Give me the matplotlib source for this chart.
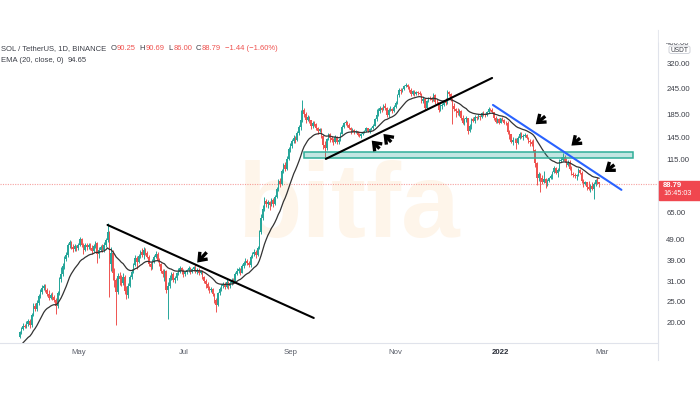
import numpy as np
import pandas as pd
import matplotlib
matplotlib.use('Agg')
import matplotlib.pyplot as plt
import matplotlib.dates as mdates
from matplotlib.patches import Rectangle, FancyBboxPatch
from matplotlib.lines import Line2D

plt.rcParams['font.family'] = ['Liberation Sans', 'DejaVu Sans']

# SOL/USDT daily, Binance. closes of 1-27 Mar 2021 only seed the EMA
warmup_close = [15.3, 14.6, 15.0, 14.1, 13.8, 13.6, 14.4, 15.0, 14.9, 15.1,
                15.2, 14.7, 15.3, 14.8, 14.2, 14.3, 15.0, 14.6, 15.9, 16.2,
                16.0, 15.6, 15.2, 14.5, 14.1, 15.3, 17.2]

first_day = '2021-03-28'
last_day = '2022-02-27'

close = [
    18.1, 18.8, 19.4, 19.2,
    # apr
    19.8, 20.3, 19.5, 21.8, 23.9, 23.2, 24.8, 26.5, 27.8, 28.9, 29.6, 28.4, 27.2, 26.1, 27.0,
    26.3, 25.6, 23.8, 27.4, 31.8, 33.6, 36.8, 39.7, 41.2, 45.8, 47.4, 45.1, 44.0, 45.6, 44.3,
    # may
    46.0, 48.9, 45.8, 43.5, 46.2, 44.8, 45.9, 44.6, 43.2, 45.3, 46.8, 41.9, 43.6, 45.2, 43.8,
    46.1, 48.3, 52.9, 37.6, 42.4, 34.2, 31.5, 27.9, 33.1, 32.0, 30.6, 32.8, 28.1, 26.9, 29.8, 32.6,
    # jun
    34.6, 37.2, 40.1, 38.4, 40.9, 42.8, 41.2, 43.6, 42.3, 40.5, 37.6, 36.2, 38.7, 40.6, 41.8,
    38.9, 37.4, 34.7, 33.6, 34.9, 28.3, 29.6, 32.4, 33.8, 31.5, 32.2, 33.9, 34.6, 35.8, 34.9,
    # jul
    33.6, 34.4, 35.1, 35.9, 34.3, 35.4, 36.2, 34.6, 35.2, 34.1, 34.8, 32.6, 31.2, 30.4, 29.1,
    28.3, 28.6, 27.2, 25.6, 24.2, 27.4, 28.6, 29.7, 30.2, 29.4, 30.8, 29.6, 30.6, 31.7, 31.2, 33.8,
    # aug
    34.9, 35.6, 34.2, 36.8, 38.1, 38.9, 37.8, 37.1, 40.6, 41.7, 42.8, 41.2, 44.6, 52.8, 61.5,
    67.9, 73.4, 71.2, 72.6, 70.4, 74.8, 71.6, 76.9, 83.4, 90.8, 88.2, 101.5, 108.6, 104.3, 115.6, 128.4,
    # sep
    132.8, 139.6, 145.2, 141.3, 152.6, 163.4, 176.2, 194.8, 186.4, 175.6, 181.2, 174.5, 163.8, 170.6, 167.2,
    160.4, 155.8, 158.9, 147.6, 134.5, 129.8, 142.6, 150.4, 144.8, 141.6, 139.2, 146.1, 138.4, 141.5, 151.6,
    # oct
    163.2, 168.9, 172.4, 167.1, 161.5, 156.8, 157.4, 153.6, 155.2, 149.8, 148.3, 151.7, 153.9, 155.6, 160.1,
    156.2, 158.4, 160.6, 164.8, 176.5, 185.3, 192.7, 198.6, 196.2, 204.5, 199.1, 184.6, 194.3, 197.8, 192.5, 202.4,
    # nov
    209.6, 228.4, 242.8, 238.6, 244.9, 251.3, 255.2, 249.6, 240.5, 232.1, 238.4, 231.6, 235.8, 234.2, 231.5,
    214.6, 219.8, 199.6, 214.2, 221.4, 219.3, 218.1, 229.6, 212.4, 211.8, 194.7, 204.3, 206.1, 212.8, 209.5,
    # dec
    237.6, 231.4, 219.2, 203.8, 197.5, 192.4, 188.6, 193.2, 179.8, 170.4, 176.5, 178.2, 155.6, 164.8, 176.3,
    173.9, 181.2, 179.6, 183.4, 181.2, 188.6, 186.9, 184.2, 190.5, 197.4, 195.8, 190.2, 179.6, 172.4, 176.8, 170.3,
    # jan 2022
    178.2, 176.1, 170.6, 168.9, 154.2, 150.3, 138.6, 141.2, 141.8, 137.4, 144.6, 151.3, 146.8, 148.2, 149.6,
    144.8, 140.3, 138.1, 135.4, 126.7, 110.2, 94.6, 98.8, 94.1, 90.6, 92.8, 89.4, 91.6, 93.8, 96.2, 100.4,
    # feb
    104.8, 99.6, 103.2, 113.5, 114.8, 118.2, 113.6, 108.4, 111.2, 104.1, 98.6, 97.4, 95.8, 96.9, 102.4,
    99.8, 91.2, 88.6, 89.9, 85.8, 84.2, 86.9, 83.6, 88.4, 92.1, 90.25, 88.79,
]

high = [
    18.4, 19.2, 19.9, 19.8,
    20.4, 20.9, 20.8, 22.3, 24.6, 24.8, 25.6, 27.1, 28.6, 30.1, 30.4, 30.2, 29.0, 28.3, 27.6,
    27.9, 26.9, 26.1, 28.2, 32.6, 36.2, 37.9, 40.8, 42.5, 46.9, 48.6, 48.1, 46.3, 46.5, 46.2,
    46.9, 50.2, 49.6, 47.1, 47.0, 46.9, 47.2, 46.8, 45.8, 46.4, 47.8, 47.5, 45.2, 46.1, 46.3,
    47.4, 49.6, 58.2, 53.6, 44.8, 43.5, 35.8, 32.4, 34.2, 34.6, 33.4, 33.9, 33.2, 29.6, 30.5, 33.4,
    35.6, 38.1, 41.2, 41.0, 41.8, 43.6, 44.3, 44.8, 44.6, 43.2, 41.1, 38.4, 39.4, 41.4, 43.2,
    42.5, 39.8, 37.9, 35.5, 35.4, 35.3, 30.8, 33.2, 34.6, 34.3, 33.0, 34.4, 35.8, 36.7, 36.3,
    35.4, 34.9, 35.7, 36.6, 36.2, 36.1, 36.9, 37.6, 35.8, 35.9, 35.3, 35.1, 33.1, 31.8, 31.0,
    29.8, 29.2, 29.0, 27.6, 26.0, 27.9, 29.3, 30.2, 31.0, 30.8, 31.9, 31.2, 31.3, 32.2, 32.3, 34.5,
    35.8, 36.4, 36.0, 37.4, 38.9, 39.8, 39.6, 38.8, 41.2, 42.6, 43.9, 43.4, 45.3, 54.2, 63.8,
    70.2, 76.8, 75.6, 74.1, 74.0, 76.1, 75.9, 78.2, 85.6, 93.2, 94.1, 103.6, 111.2, 112.4, 118.9, 131.5,
    137.2, 143.1, 149.8, 147.6, 155.3, 166.8, 194.6, 216.8, 199.6, 190.2, 184.6, 183.9, 176.2, 172.8, 173.4,
    169.5, 162.6, 161.4, 160.2, 148.9, 139.6, 144.8, 153.2, 152.6, 147.9, 145.1, 149.3, 147.8, 144.6, 153.9,
    165.8, 171.6, 175.1, 173.6, 169.2, 163.4, 160.6, 159.8, 157.3, 156.6, 152.4, 153.2, 156.4, 158.2, 162.7,
    161.8, 160.2, 163.1, 167.4, 179.2, 196.4, 198.5, 202.8, 201.4, 207.9, 209.6, 202.3, 198.6, 203.4, 199.6, 205.8,
    214.2, 231.6, 246.2, 245.9, 248.3, 256.2, 259.9, 258.4, 252.1, 246.3, 241.2, 240.5, 238.9, 239.6, 238.2,
    233.4, 223.6, 222.4, 216.8, 224.6, 226.2, 223.5, 233.2, 231.8, 218.6, 213.4, 207.9, 209.4, 217.5, 221.6,
    242.8, 240.2, 234.1, 221.5, 209.6, 199.8, 199.2, 196.4, 195.6, 184.1, 178.9, 182.3, 179.4, 167.2, 178.6,
    181.2, 184.5, 183.8, 186.9, 185.6, 191.3, 192.4, 189.6, 193.8, 200.6, 199.8, 198.7, 191.5, 182.8, 179.6, 178.4,
    179.8, 180.4, 177.3, 174.2, 173.1, 156.8, 151.2, 145.6, 145.3, 143.9, 147.2, 154.4, 153.6, 150.6, 152.8,
    151.2, 146.1, 142.6, 142.2, 143.8, 128.4, 111.8, 100.4, 99.6, 96.8, 101.2, 94.3, 93.2, 95.1, 98.2, 101.9,
    107.2, 105.6, 104.8, 114.9, 118.2, 123.1, 120.4, 116.2, 113.9, 114.6, 106.8, 100.3, 99.1, 98.2, 104.6,
    103.8, 101.4, 93.1, 91.6, 90.4, 91.2, 88.1, 90.2, 89.8, 93.4, 94.8, 90.69,
]

low = [
    17.0, 17.8, 18.5, 18.9,
    19.0, 19.4, 19.0, 19.2, 21.4, 22.6, 22.7, 24.3, 26.0, 27.2, 28.3, 27.8, 26.5, 25.4, 25.7,
    25.5, 25.0, 21.9, 23.4, 27.0, 31.0, 32.9, 35.6, 38.6, 40.5, 44.6, 44.0, 42.8, 43.1, 43.2,
    43.8, 45.5, 44.9, 41.8, 42.9, 43.6, 44.1, 43.5, 41.9, 42.6, 44.7, 37.8, 39.8, 42.9, 42.7,
    42.5, 44.8, 47.6, 26.4, 34.9, 31.6, 29.2, 19.6, 27.2, 30.1, 29.8, 29.9, 27.3, 25.8, 26.1, 29.2,
    32.0, 34.1, 36.8, 35.6, 37.9, 40.2, 40.5, 39.6, 41.4, 39.8, 36.9, 35.1, 35.6, 38.1, 40.0,
    38.2, 36.6, 34.0, 32.8, 31.2, 27.6, 20.9, 28.9, 31.6, 30.8, 30.6, 31.7, 33.2, 34.0, 33.8,
    32.8, 32.9, 33.8, 34.6, 33.6, 33.9, 34.8, 34.0, 33.7, 33.5, 33.6, 32.0, 30.5, 29.1, 28.5,
    27.6, 27.7, 26.5, 24.8, 22.4, 23.9, 27.0, 28.1, 29.0, 28.6, 29.0, 28.7, 29.1, 30.1, 30.4, 31.0,
    33.2, 34.2, 33.5, 33.9, 35.9, 37.2, 37.0, 36.2, 36.5, 39.8, 41.0, 40.1, 40.8, 44.1, 51.9,
    60.4, 66.5, 68.9, 68.6, 67.2, 69.8, 69.4, 70.8, 75.8, 82.1, 85.6, 87.4, 99.8, 101.6, 103.1, 113.8,
    124.6, 130.5, 136.4, 137.2, 140.2, 150.1, 158.2, 172.4, 181.2, 170.4, 172.8, 170.6, 158.4, 161.2, 164.1,
    157.8, 151.2, 153.6, 145.3, 128.6, 116.9, 127.3, 140.8, 138.2, 138.4, 133.6, 137.5, 136.2, 135.8, 140.2,
    150.4, 161.2, 166.3, 162.4, 158.8, 151.2, 153.9, 151.4, 151.8, 147.2, 145.6, 144.9, 148.6, 152.4, 154.3,
    154.6, 153.1, 156.8, 158.9, 163.6, 174.1, 182.6, 189.4, 190.8, 194.3, 195.8, 180.2, 181.4, 192.1, 188.4, 190.6,
    199.8, 207.3, 225.4, 232.6, 236.1, 240.8, 248.6, 244.2, 236.8, 226.4, 229.6, 226.8, 229.1, 230.4, 228.6,
    210.2, 210.8, 195.3, 197.2, 211.8, 216.4, 212.6, 214.8, 208.6, 207.2, 190.2, 193.1, 196.8, 204.2, 205.3,
    208.1, 226.3, 214.6, 168.4, 192.1, 180.6, 185.3, 183.9, 176.2, 167.6, 166.8, 172.5, 151.2, 153.8, 158.4,
    171.6, 170.3, 175.1, 177.2, 174.8, 179.9, 183.5, 180.8, 183.1, 189.2, 192.3, 188.4, 176.2, 170.1, 169.3, 168.2,
    169.6, 173.2, 167.8, 165.4, 150.6, 143.2, 136.4, 133.8, 138.1, 128.6, 135.9, 143.1, 144.2, 141.3, 146.1,
    143.6, 137.5, 133.2, 132.6, 125.1, 106.2, 87.2, 91.3, 81.4, 88.2, 89.6, 84.6, 86.8, 90.4, 92.8, 93.6,
    99.1, 98.2, 95.6, 101.4, 111.6, 112.9, 111.8, 106.1, 107.3, 102.5, 96.9, 95.2, 94.6, 91.8, 96.1,
    98.1, 89.6, 85.4, 87.2, 83.1, 82.6, 80.8, 82.9, 75.2, 86.9, 88.6, 86.00,
]

# drawings made on the chart (date, price)
down_line_dates = ['2021-05-18 00:00', '2021-09-14 14:00']
down_line_prices = [57.0, 21.05]
up_line_dates = ['2021-09-21 14:00', '2021-12-27 00:00']
up_line_prices = [115.6, 275.0]
blue_line_dates = ['2021-12-27 12:00', '2022-03-12 00:00']
blue_line_prices = [206.0, 83.0]
zone_dates = ['2021-09-09 00:00', '2022-03-19 00:00']
zone_prices = [116.5, 124.5]

arrow_dates = ['2021-07-09 00:00', '2021-10-18 05:00', '2021-10-25 00:00',
               '2022-01-21 08:00', '2022-02-11 00:00', '2022-03-02 10:00']
arrow_prices = [38.1, 140.6, 151.0, 167.6, 133.3, 100.5]
arrow_tail = [(6.8, 7.4), (5.6, -5.8), (5.6, -5.8), (6.8, 5.8), (6.2, 5.4), (6.8, 5.2)]

price_ticks = [20, 25, 31, 39, 49, 65, 115, 145, 185, 245, 320, 400]
month_ticks = ['2021-05-01', '2021-07-01', '2021-09-01', '2021-11-01', '2022-01-01', '2022-03-01']
month_labels = ['May', 'Jul', 'Sep', 'Nov', '2022', 'Mar']

last_price = 88.79
UP = '#26a69a'
DOWN = '#ef5350'
TXT = '#3c3f48'


def dnum(ds):
    return mdates.date2num([pd.Timestamp(d) for d in ds])


W, H = 700, 400
fig = plt.figure(figsize=(7, 4), dpi=100)
ax = fig.add_axes([0, (H - 343) / H, 658 / W, (343 - 40) / H])

dates = pd.date_range(first_day, last_day, freq='D')
x = mdates.date2num(dates)
c = np.array(close)
o = np.array([warmup_close[-1]] + close[:-1])
up = c >= o
cols = np.where(up, UP, DOWN)

ema = pd.Series(warmup_close + close).ewm(span=20, adjust=False).mean().values[len(warmup_close):]

# watermark
ax.text(237 / W, 1 - 237 / H, 'bitfa', transform=fig.transFigure, fontsize=76,
        fontweight='bold', color='#fef5ea', ha='left', va='baseline', zorder=0)

ax.vlines(x, low, high, colors=cols, lw=0.7, zorder=2)
ax.bar(x, np.abs(c - o), bottom=np.minimum(o, c), width=0.85, color=cols, lw=0, zorder=3)
ax.plot(x, ema, color='#333333', lw=0.9, zorder=4)

ax.axhline(last_price, color=DOWN, alpha=0.55, lw=0.8, ls=(0, (1, 1.2)), zorder=1)

zd = dnum(zone_dates)
ax.add_patch(Rectangle((zd[0], zone_prices[0]), zd[1] - zd[0], zone_prices[1] - zone_prices[0],
                       facecolor=(0.15, 0.65, 0.6, 0.28), edgecolor='#2fae98', lw=1.1, zorder=5))

for ds, ps, col in [(down_line_dates, down_line_prices, 'black'),
                    (up_line_dates, up_line_prices, 'black'),
                    (blue_line_dates, blue_line_prices, '#2962ff')]:
    ax.plot(dnum(ds), ps, color=col, lw=1.5, solid_capstyle='round', zorder=6)

for d, p, off in zip(dnum(arrow_dates), arrow_prices, arrow_tail):
    ax.annotate('', xy=(d, p), xytext=off, textcoords='offset points',
                arrowprops=dict(arrowstyle='->, head_length=0.5, head_width=0.38',
                                lw=2.4, color='black', shrinkA=0, shrinkB=0,
                                joinstyle='miter', capstyle='butt'),
                zorder=7)

ax.set_yscale('log')
ax.set_ylim(16.1, 413)
ax.set_xlim(dnum(['2021-03-16 15:30', '2022-04-02 05:00']))

ax.yaxis.tick_right()
ax.yaxis.set_major_locator(plt.FixedLocator(price_ticks))
ax.yaxis.set_minor_locator(plt.NullLocator())
ax.set_yticklabels(['%.2f' % v for v in price_ticks])
ax.tick_params(axis='y', length=0, pad=6, labelsize=5.6, labelcolor=TXT)

ax.set_xticks(dnum(month_ticks))
ax.set_xticklabels(month_labels)
ax.tick_params(axis='x', length=0, pad=4, labelsize=5.6, labelcolor='#5a5e69')
for lab in ax.get_xticklabels():
    if lab.get_text() == '2022':
        lab.set_fontweight('bold')
        lab.set_color('#2a2e39')

for s in ax.spines.values():
    s.set_visible(False)

# pane borders
fig.add_artist(Line2D([0, 658 / W], [1 - 343 / H] * 2, color='#e0e3eb', lw=0.8))
fig.add_artist(Line2D([658 / W] * 2, [1 - 30 / H, 1 - 360 / H], color='#e0e3eb', lw=0.8))

# hide top of the price scale, USDT badge
fig.add_artist(Rectangle((659 / W, 1 - 41.5 / H), 41 / W, 41.5 / H,
                         transform=fig.transFigure, color='white', zorder=5))
fig.add_artist(FancyBboxPatch((669 / W, 1 - 53.5 / H), 21 / W, 7.5 / H,
                              boxstyle='round,pad=0,rounding_size=0.004',
                              transform=fig.transFigure, facecolor='white',
                              edgecolor='#c9ccd4', lw=0.6, zorder=6))
fig.text(679.5 / W, 1 - 50 / H, 'USDT', fontsize=4.8, color=TXT, ha='center', va='center', zorder=7)

# last price badge
fig.add_artist(Rectangle((658.5 / W, 1 - 199.5 / H), 42 / W, 19 / H,
                         transform=fig.transFigure, color='#f0474f', zorder=6))
fig.text(663 / W, 1 - 185.5 / H, '88.79', fontsize=5.5, fontweight='bold', color='white',
         va='center', zorder=7)
fig.text(663 / W, 1 - 193.5 / H, '16:45:03', fontsize=5.2, color='white', va='center', zorder=7)

# legend lines, top left
renderer = fig.canvas.get_renderer()


def put_row(x0, y0, parts):
    xx = x0
    for s, col, gap in parts:
        t = fig.text(xx / W, 1 - y0 / H, s, color=col, fontsize=5.5, ha='left', va='center')
        xx += t.get_window_extent(renderer).width + gap


put_row(1, 48.5, [('SOL / TetherUS, 1D, BINANCE', TXT, 4), ('O', TXT, 0.4), ('90.25', DOWN, 4),
                  ('H', TXT, 0.4), ('90.69', DOWN, 4), ('L', TXT, 0.4), ('86.00', DOWN, 4),
                  ('C', TXT, 0.4), ('88.79', DOWN, 4), ('\u22121.44 (\u22121.60%)', DOWN, 0)])
put_row(1, 61, [('EMA (20, close, 0)', TXT, 4), ('94.65', TXT, 0)])

fig.savefig('out.png', dpi=100, facecolor='white')
